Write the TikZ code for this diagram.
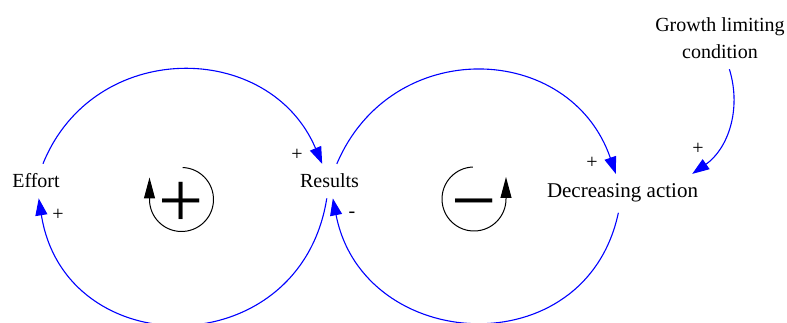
\documentclass[tikz,border=0pt]{standalone}
\usepackage{fontspec}
\setmainfont{Liberation Serif}
\usetikzlibrary{arrows.meta}
\begin{document}
\begin{tikzpicture}[x=1pt, y=1pt,
    every node/.style={font=\rmfamily\fontsize{20}{27}\selectfont},
    var/.style={inner xsep=2pt, inner ysep=10pt},
    link/.style={draw=blue, line width=1.1pt, -{Triangle[length=17pt,width=12pt]}},
    sign/.style={inner sep=0pt},
    loopsym/.style={draw=black, line width=1pt, -{Triangle[length=21pt,width=11pt]}},
    loopmark/.style={inner sep=0pt, anchor=base, font=\rmfamily\fontsize{80}{80}\selectfont}]
  \useasboundingbox (0,0) rectangle (787,323);
  % variables
  \node[var, anchor=base] (effort) at (36,135) {Effort};
  \node[var, anchor=base] (results) at (329.5,135) {Results};
  \node[var, anchor=base, font=\rmfamily\fontsize{21}{27}\selectfont] (decr) at (622.5,125) {Decreasing action};
  \node[var, align=center] (growth) at (720,284.5) {Growth limiting\\condition};
  % causal links
  \draw[link] (effort) to[out=68, in=113, distance=135pt] (results);
  \draw[link] (results) to[out=-99, in=-81, distance=169pt] (effort);
  \draw[link] (results) to[out=67, in=109, distance=140pt] (decr);
  \draw[link] (decr) to[out=-102, in=-79, distance=158pt] (results);
  \draw[link] (growth) to[out=-73, in=35, distance=43pt] ([xshift=-8pt]decr.north east);
  % polarities
  \node[sign] (pres) at (297,168) {+};
  \node[sign] (peff) at (58,108) {+};
  \node[sign] (mres) at (352,108) {-};
  \node[sign] (pdecr) at (592,160) {+};
  \node[sign] (pgrowth) at (698,174) {+};
  % loop markers
  \coordinate (rloop) at (181.5,123.5);
  \coordinate (bloop) at (474,124);
  \node[loopmark] (rmark) at ([yshift=-28.5pt]rloop) {+};
  \node[loopmark] (bmark) at ([yshift=-28.5pt]bloop) {−};
  \draw[loopsym] ([shift={(88:32pt)}]rloop) arc[start angle=88, end angle=-180, radius=32pt] -- ++(0,22);
  \draw[loopsym] ([shift={(92:32pt)}]bloop) arc[start angle=92, end angle=360, radius=32pt] -- ++(0,22);
\end{tikzpicture}
\end{document}
